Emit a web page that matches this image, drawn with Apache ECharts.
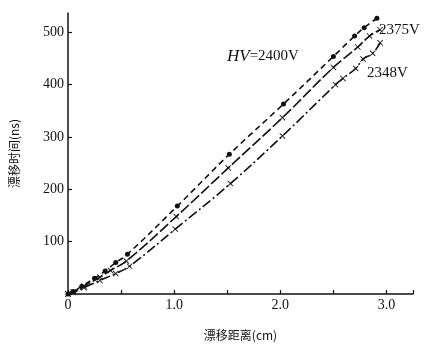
<!DOCTYPE html>
<html><head><meta charset="utf-8">
<script src="https://cdn.jsdelivr.net/npm/echarts@6/dist/echarts.min.js"></script>
<style>html,body{margin:0;padding:0;background:#fff}#c{width:428px;height:346px}</style>
</head><body><div id="c"></div>
<script>
const xTickLabels = {0:'0', 1:'1.0', 2:'2.0', 3:'3.0'};
const s2400 = [[0,0],[0.05,5],[0.13,15],[0.25,30],[0.35,44],[0.45,60],[0.56,76],[1.03,168],[1.52,267],[2.03,363],[2.5,454],[2.7,493],[2.79,509],[2.91,527]];
const s2375 = [[0,0],[0.05,4],[0.15,15],[0.3,32],[0.4,45],[0.55,63],[1.02,148],[1.51,241],[2.02,337],[2.5,433],[2.73,472],[2.84,493],[2.94,505]];
const s2348 = [[0,0],[0.05,3],[0.15,12],[0.3,26],[0.45,39],[0.58,53],[1.01,124],[1.53,211],[2.02,302],[2.52,400],[2.59,412],[2.71,431],[2.78,449],[2.87,460],[2.94,480]];
const seriesNames = ['2400V','2375V','2348V'];

const serif = '"Liberation Serif","DejaVu Serif",serif';
const cjk = '"Noto Sans CJK SC",sans-serif';
const xPath = 'path://M0,1L1,0L5,4L9,0L10,1L6,5L10,9L9,10L5,6L1,10L0,9L4,5Z';

const chart = echarts.init(document.getElementById('c'), null, {renderer:'canvas'});
chart.setOption({
  backgroundColor:'#fff',
  animation:false,
  grid:{left:68, right:15, top:13, bottom:43},
  xAxis:{
    type:'value', min:0, max:3.25, interval:0.5,
    name:'漂移距离(cm)', nameLocation:'middle', nameGap:35,
    nameTextStyle:{fontFamily:cjk, fontSize:12, color:'#111'},
    axisLine:{lineStyle:{color:'#111', width:1.5}},
    axisTick:{inside:true, length:4, lineStyle:{color:'#111', width:1.2}},
    axisLabel:{color:'#111', fontFamily:serif, fontSize:14, margin:4,
      formatter:v=> (xTickLabels[v]!==undefined? xTickLabels[v] : '')},
    splitLine:{show:false}
  },
  yAxis:{
    type:'value', min:0, max:537, interval:100,
    name:'漂移时间(ns)', nameLocation:'middle', nameGap:48,
    nameTextStyle:{fontFamily:cjk, fontSize:12, color:'#111'},
    axisLine:{show:true, lineStyle:{color:'#111', width:1.5}},
    axisTick:{show:true, inside:true, length:4, lineStyle:{color:'#111', width:1.2}},
    axisLabel:{color:'#111', fontFamily:serif, fontSize:14, margin:4,
      formatter:v=> v===0 ? '' : String(v), showMaxLabel:false},
    splitLine:{show:false}
  },
  series:[
    {name:seriesNames[0], type:'line', data:s2400, smooth:0.4, symbol:'circle', symbolSize:5,
      itemStyle:{color:'#111'}, lineStyle:{color:'#111', width:1.6, type:[6,4]}},
    {name:seriesNames[1], type:'line', data:s2375, smooth:0.4, symbol:xPath, symbolSize:6,
      itemStyle:{color:'#111'}, lineStyle:{color:'#111', width:1.6, type:[11,3]}},
    {name:seriesNames[2], type:'line', data:s2348, smooth:0.4, symbol:xPath, symbolSize:6,
      itemStyle:{color:'#111'}, lineStyle:{color:'#111', width:1.6, type:[10,3,2,3]}}
  ],
  graphic:[
    {type:'text', left:227, top:48, style:{
      text:'{i|HV}{n|=2400V}',
      rich:{i:{fontFamily:serif, fontStyle:'italic', fontSize:17, fill:'#111'},
            n:{fontFamily:serif, fontSize:15, fill:'#111'}}}},
    {type:'text', left:379, top:23, style:{text:'2375V', fontFamily:serif, fontSize:15, fill:'#111'}},
    {type:'text', left:367, top:66, style:{text:'2348V', fontFamily:serif, fontSize:15, fill:'#111'}}
  ]
});
</script></body></html>
